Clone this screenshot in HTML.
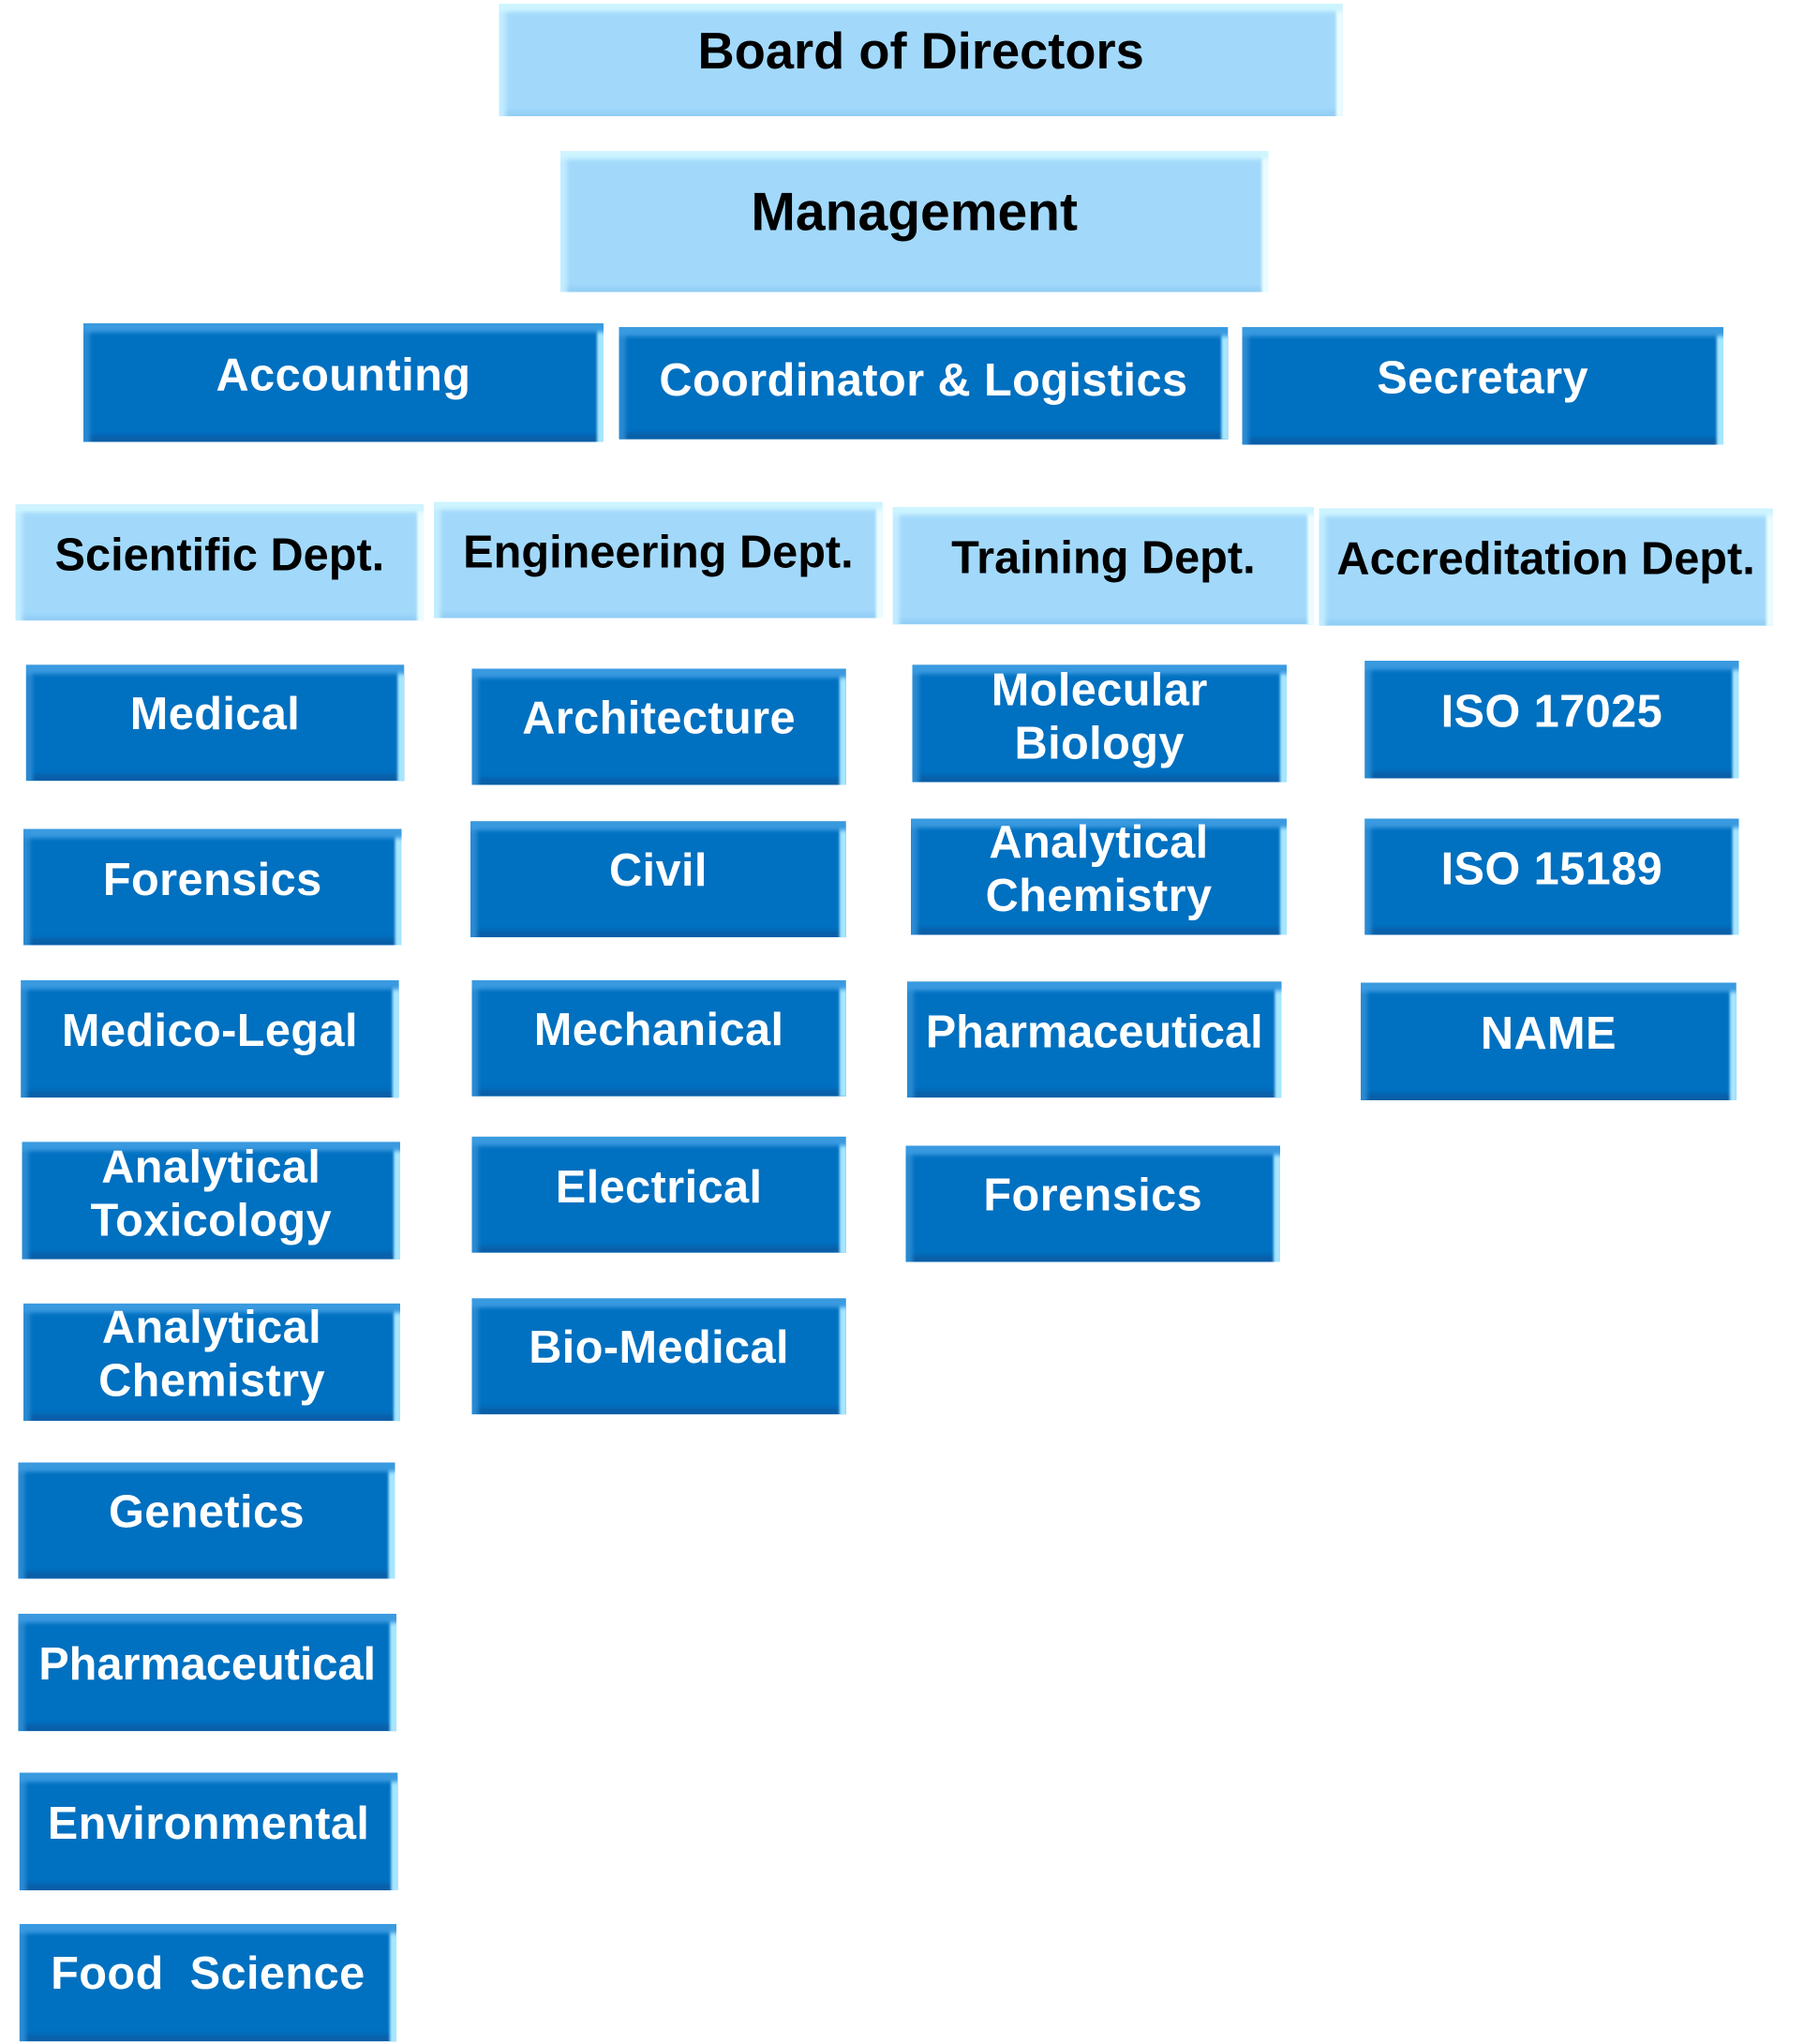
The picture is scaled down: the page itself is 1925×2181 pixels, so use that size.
<!DOCTYPE html>
<html><head><meta charset="utf-8"><style>
html,body{margin:0;padding:0;background:#fff;width:1925px;height:2181px;overflow:hidden}
#w{position:absolute;left:0;top:0;width:1384px;height:1568px;transform:scale(1.3909);transform-origin:0 0}
.b{position:absolute;box-sizing:border-box}
.d{background:#0070c0;box-shadow:inset 0 10px 3px -3px #3a9ae0,inset -8px 0 2px -3px #a6e6ff,inset 8px 0 3px -3px #2a8ad2,inset 0 -8px 3px -3px #0a5fa8}
.l{background:#a2d9fb;box-shadow:inset 0 10px 3px -4px #cdf4ff,inset -8px 0 2px -3px #eafcff,inset 8px 0 3px -3px #c2ecff,inset 0 -8px 3px -4px #93cef5}
.b span{position:absolute;left:0;right:0;text-align:center;transform:translateY(-50%);font-family:"Liberation Sans",sans-serif;font-weight:bold;white-space:nowrap;line-height:41px}
.d span{color:#fff;font-size:35px;letter-spacing:0.3px}
.l span{color:#000;font-size:35px}
</style></head><body><div id="w">
<div class="b l" style="left:383px;top:3px;width:647px;height:86px"><span style="top:37px;font-size:39px">Board of Directors</span></div>
<div class="b l" style="left:430px;top:116px;width:543px;height:108px"><span style="top:47px;font-size:41px">Management</span></div>
<div class="b d" style="left:64px;top:248px;width:399px;height:91px"><span style="top:40px;font-size:35px">Accounting</span></div>
<div class="b d" style="left:475px;top:251px;width:467px;height:86px"><span style="top:41px;font-size:35px">Coordinator &amp; Logistics</span></div>
<div class="b d" style="left:953px;top:251px;width:369px;height:90px"><span style="top:39px;font-size:35px">Secretary</span></div>
<div class="b l" style="left:12px;top:387px;width:313px;height:89px"><span style="top:39px;font-size:35px">Scientific Dept.</span></div>
<div class="b l" style="left:333px;top:385px;width:344px;height:89px"><span style="top:39px;font-size:35px">Engineering Dept.</span></div>
<div class="b l" style="left:685px;top:389px;width:323px;height:90px"><span style="top:39px;font-size:35px">Training Dept.</span></div>
<div class="b l" style="left:1012px;top:390px;width:348px;height:90px"><span style="top:39px;font-size:35px">Accreditation Dept.</span></div>

<div class="b d" style="left:20px;top:510px;width:290px;height:89px"><span style="top:38px">Medical</span></div>
<div class="b d" style="left:18px;top:636px;width:290px;height:89px"><span style="top:39px">Forensics</span></div>
<div class="b d" style="left:16px;top:752px;width:290px;height:90px"><span style="top:39px">Medico-Legal</span></div>
<div class="b d" style="left:17px;top:876px;width:290px;height:90px"><span style="top:40px">Analytical<br>Toxicology</span></div>
<div class="b d" style="left:18px;top:1000px;width:289px;height:90px"><span style="top:39px">Analytical<br>Chemistry</span></div>
<div class="b d" style="left:14px;top:1122px;width:289px;height:89px"><span style="top:38px">Genetics</span></div>
<div class="b d" style="left:14px;top:1238px;width:290px;height:90px"><span style="top:39px;letter-spacing:0">Pharmaceutical</span></div>
<div class="b d" style="left:15px;top:1360px;width:290px;height:90px"><span style="top:39px">Environmental</span></div>
<div class="b d" style="left:15px;top:1476px;width:289px;height:90px"><span style="top:38px">Food&nbsp; Science</span></div>

<div class="b d" style="left:362px;top:513px;width:287px;height:89px"><span style="top:38px">Architecture</span></div>
<div class="b d" style="left:361px;top:630px;width:288px;height:89px"><span style="top:38px">Civil</span></div>
<div class="b d" style="left:362px;top:752px;width:287px;height:89px"><span style="top:38px">Mechanical</span></div>
<div class="b d" style="left:362px;top:872px;width:287px;height:89px"><span style="top:39px">Electrical</span></div>
<div class="b d" style="left:362px;top:996px;width:287px;height:89px"><span style="top:38px">Bio-Medical</span></div>

<div class="b d" style="left:700px;top:510px;width:287px;height:90px"><span style="top:40px">Molecular<br>Biology</span></div>
<div class="b d" style="left:699px;top:628px;width:288px;height:89px"><span style="top:39px">Analytical<br>Chemistry</span></div>
<div class="b d" style="left:696px;top:753px;width:287px;height:89px"><span style="top:39px;letter-spacing:0">Pharmaceutical</span></div>
<div class="b d" style="left:695px;top:879px;width:287px;height:89px"><span style="top:38px">Forensics</span></div>

<div class="b d" style="left:1047px;top:507px;width:287px;height:90px"><span style="top:39px">ISO 17025</span></div>
<div class="b d" style="left:1047px;top:628px;width:287px;height:89px"><span style="top:39px">ISO 15189</span></div>
<div class="b d" style="left:1044px;top:754px;width:288px;height:90px"><span style="top:39px">NAME</span></div>
</div></body></html>
